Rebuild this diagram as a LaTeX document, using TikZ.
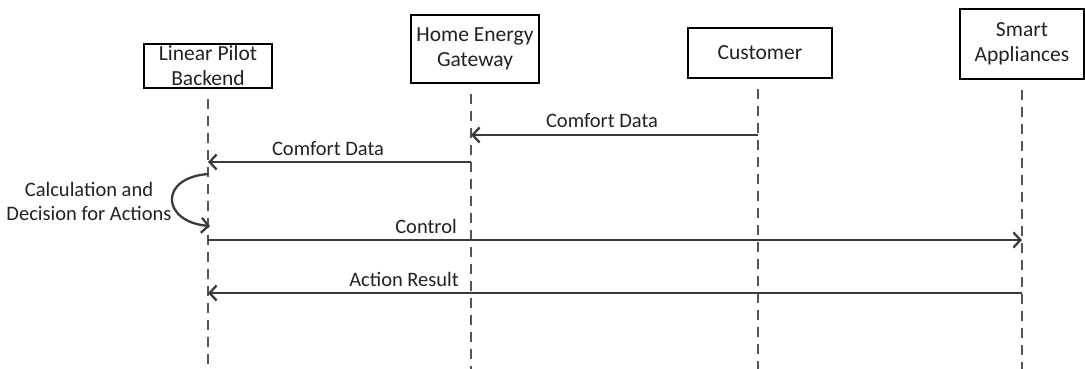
\documentclass[tikz,border=0pt]{standalone}
\usepackage{fontspec}
\setmainfont{Carlito}
\usetikzlibrary{arrows.meta}
\definecolor{ln}{HTML}{3A3A3A}
\definecolor{tx}{HTML}{222222}
\definecolor{ll}{HTML}{555555}
\begin{document}
\begin{tikzpicture}[x=1pt,y=-1pt,
  actor/.style={draw=black, line width=2.8pt, fill=white, align=center,
    font=\fontsize{21.5}{25}\selectfont, text=tx, inner sep=0pt},
  life/.style={draw=ll, line width=1.6pt, dash pattern=on 10pt off 7pt},
  msg/.style={draw=ln, line width=2.3pt,
    -{Straight Barb[length=7pt,width=15pt,line width=2.3pt]}},
  lbl/.style={font=\fontsize{20.5}{24}\selectfont, text=tx, inner sep=0pt, align=center}]
\useasboundingbox (0,0) rectangle (1085,369);

\node[actor, minimum width=128, minimum height=44] (b1) at (208,66) {Linear Pilot\\Backend};
\node[actor, minimum width=128, minimum height=68] (b2) at (475,49) {Home Energy\\Gateway};
\node[actor, minimum width=144, minimum height=50] (b3) at (760,53) {Customer};
\node[actor, minimum width=124, minimum height=70] (b4) at (1022,44) {Smart\\Appliances};

\coordinate (e1) at (208,369);
\coordinate (e2) at (471,369);
\coordinate (e3) at (758,369);
\coordinate (e4) at (1022,369);
\draw[life] ([yshift=-10pt]b1.south -| e1) -- (e1);
\draw[life] ([yshift=-10pt]b2.south -| e2) -- (e2);
\draw[life] ([yshift=-10pt]b3.south -| e3) -- (e3);
\draw[life] ([yshift=-10pt]b4.south -| e4) -- (e4);

% messages
\coordinate (m1a) at (758,135); \coordinate (m1b) at (471,135);
\draw[msg] (m1a) -- (m1b);
\node[lbl] (t1) at (602,121) {Comfort Data};

\coordinate (m2a) at (471,162); \coordinate (m2b) at (208,162);
\draw[msg] (m2a) -- (m2b);
\node[lbl] (t2) at (328,149) {Comfort Data};

\coordinate (l1) at (208,174); \coordinate (l2) at (210,226);
\draw[msg] (l1) .. controls (158,178) and (162,222) .. (l2);
\node[lbl] (t3) at (89,201) {Calculation and\\Decision for Actions};

\coordinate (m3a) at (208,240); \coordinate (m3b) at (1022,240);
\draw[msg] (m3a) -- (m3b);
\node[lbl, anchor=east] (t4) at (457,226) {Control};

\coordinate (m4a) at (1022,293); \coordinate (m4b) at (208,293);
\draw[msg] (m4a) -- (m4b);
\node[lbl, anchor=east] (t5) at (459,279) {Action Result};
\end{tikzpicture}
\end{document}
